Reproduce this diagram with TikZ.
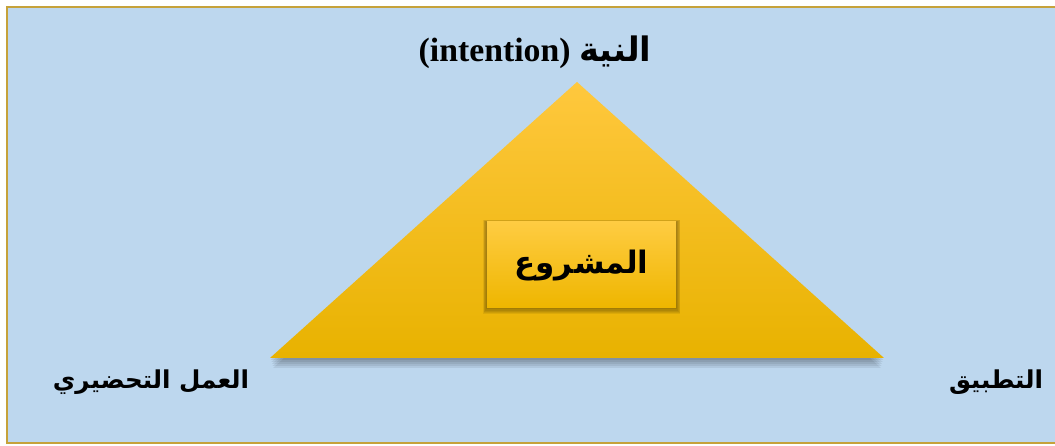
\documentclass[tikz,border=0pt]{standalone}
\usepackage{fontspec}
\setmainfont{Liberation Serif}
\newfontfamily\arabicfont[Script=Arabic]{DejaVu Sans}
\TeXXeTstate=1
\usetikzlibrary{calc}
\definecolor{bg}{RGB}{189,215,238}
\definecolor{framecol}{RGB}{198,162,58}
\definecolor{goldtop}{RGB}{255,200,62}
\definecolor{goldbot}{RGB}{232,178,0}
\definecolor{boxtop}{RGB}{255,204,66}
\definecolor{boxbot}{RGB}{238,182,0}
\tikzset{
  lbl/.style={inner sep=0pt, text=black},
  shadowlayer/.style={fill=black, opacity=0.07},
}
\begin{document}
\begin{tikzpicture}[x=0.025cm,y=-0.025cm]
\useasboundingbox (0,0) rectangle (1055,446);
\fill[white] (0,0) rectangle (1055,446);
\fill[bg] (7,7) rectangle (1056,443);
\draw[framecol, line width=2pt] (1058,7) -- (7,7) -- (7,443) -- (1058,443);

% triangle
\coordinate (apex) at (577,82);
\coordinate (bl) at (270,358);
\coordinate (br) at (884,358);
\foreach \d in {2,4,6,8,10}{
  \fill[shadowlayer] ($(bl)+(\d*0.3,\d)$) -- ($(apex)+(0,\d)$) -- ($(br)+(-\d*0.3,\d)$) -- cycle;
}
\shade[top color=goldtop, bottom color=goldbot] (apex) -- (br) -- (bl) -- cycle;

% center box
\foreach \d in {1,2,3,4,5,6}{
  \fill[shadowlayer] (487-\d*0.7,222-\d*0.3) rectangle (676+\d*0.7,307+\d*1.2);
}
\node[lbl, minimum width=4.725cm, minimum height=2.125cm, top color=boxtop, bottom color=boxbot] (box) at (581.5,264.5) {};
\node[lbl] (boxtxt) at (581.5,266) {\arabicfont\bfseries\fontsize{22}{27}\selectfont\beginR المشروع\endR};

% labels
\node[lbl, anchor=base] (toplbl) at (535,62) {\bfseries\fontsize{24}{28}\selectfont (intention) {\arabicfont\beginR النية\endR}};
\node[lbl] (leftlbl) at (151,382) {\arabicfont\bfseries\fontsize{17.5}{22}\selectfont\beginR العمل التحضيري\endR};
\node[lbl] (rightlbl) at (996,382) {\arabicfont\bfseries\fontsize{17.5}{22}\selectfont\beginR التطبيق\endR};
\end{tikzpicture}
\end{document}
